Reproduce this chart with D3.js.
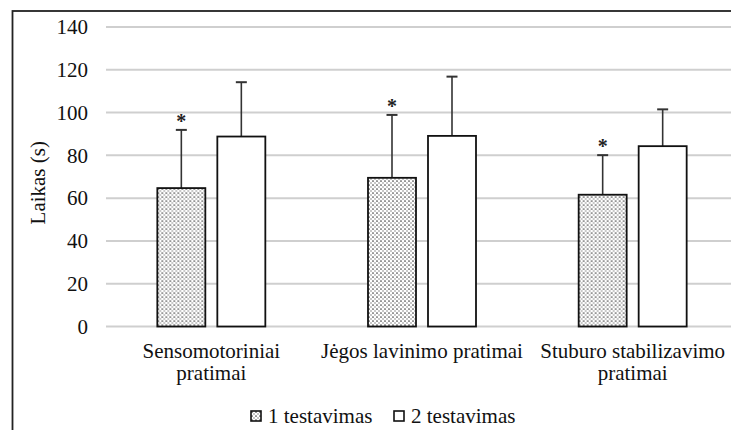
<!DOCTYPE html>
<html>
<head>
<meta charset="utf-8">
<script src="https://cdn.jsdelivr.net/npm/d3@7"></script>
<style>
  body { margin: 0; background: #fff; }
</style>
</head>
<body>
<div id="chart"></div>
<script>
// categories (line breaks as in the original)
const categories = ['Sensomotoriniai\npratimai', 'Jėgos lavinimo pratimai', 'Stuburo stabilizavimo\npratimai'];
const seriesNames = ['1 testavimas', '2 testavimas'];

// means and standard deviations
const test1 = [64.7, 69.5, 61.6];
const test1Sd = [27.2, 29.4, 18.5];
const test2 = [88.8, 89.1, 84.3];
const test2Sd = [25.4, 27.7, 17.2];

// significance marks (shown above 1st test bars)
const significant = [true, true, true];

const yTicks = [0, 20, 40, 60, 80, 100, 120, 140];

const width = 731;
const height = 430;
const margin = { top: 27, right: -7, bottom: 104, left: 106 };
const fontFamily = "'Liberation Serif', 'Times New Roman', 'DejaVu Serif', serif";

const svg = d3.select('#chart').append('svg')
    .attr('width', width)
    .attr('height', height)
    .style('font-family', fontFamily)
    .attr('font-family', fontFamily);

const defs = svg.append('defs');
const dots = defs.append('pattern')
    .attr('id', 'dots')
    .attr('patternUnits', 'userSpaceOnUse')
    .attr('width', 4)
    .attr('height', 4);
dots.append('rect').attr('width', 4).attr('height', 4).attr('fill', '#fff');
dots.append('circle').attr('cx', 1).attr('cy', 1).attr('r', 0.85).attr('fill', '#444');
dots.append('circle').attr('cx', 3).attr('cy', 3).attr('r', 0.75).attr('fill', '#777');

// outer frame (cropped at right and bottom in the source)
svg.append('rect')
    .attr('x', 12.5)
    .attr('y', 11)
    .attr('width', width + 20)
    .attr('height', height + 20)
    .attr('fill', 'none')
    .attr('stroke', '#222')
    .attr('stroke-width', 1.8);

const x0 = d3.scaleBand()
    .domain(categories)
    .range([margin.left, width - margin.right]);

const y = d3.scaleLinear()
    .domain([0, 140])
    .range([height - margin.bottom + 0.5, margin.top]);

// gridlines
svg.append('g')
    .selectAll('line')
    .data(yTicks)
    .join('line')
    .attr('x1', margin.left)
    .attr('x2', width - margin.right)
    .attr('y1', d => y(d))
    .attr('y2', d => y(d))
    .attr('stroke', '#cfcfcf')
    .attr('stroke-width', 2);

// y tick labels
svg.append('g')
    .selectAll('text')
    .data(yTicks)
    .join('text')
    .attr('x', 88)
    .attr('y', d => y(d))
    .attr('dy', '0.35em')
    .attr('text-anchor', 'end')
    .attr('font-size', 21)
    .attr('fill', '#111')
    .text(d => d);

// y axis title
svg.append('text')
    .attr('transform', `translate(45, ${(y(0) + y(140)) / 2 + 6}) rotate(-90)`)
    .attr('text-anchor', 'middle')
    .attr('font-size', 21)
    .attr('fill', '#111')
    .text('Laikas (s)');

const barWidth = 48;
const barGap = 12;

const rows = categories.map((c, i) => ({
    cat: c,
    bars: [
        { s: 0, v: test1[i], sd: test1Sd[i], sig: significant[i] },
        { s: 1, v: test2[i], sd: test2Sd[i], sig: false },
    ],
}));

const groups = svg.append('g')
    .selectAll('g')
    .data(rows)
    .join('g')
    .attr('transform', d => `translate(${x0(d.cat) + x0.bandwidth() / 2}, 0)`);

const bars = groups.selectAll('g')
    .data(d => d.bars)
    .join('g')
    .attr('transform', d => `translate(${d.s === 0 ? -barWidth - barGap / 2 : barGap / 2}, 0)`);

// error bars (upper only)
bars.append('line')
    .attr('x1', barWidth / 2)
    .attr('x2', barWidth / 2)
    .attr('y1', d => y(d.v))
    .attr('y2', d => y(d.v + d.sd))
    .attr('stroke', '#333')
    .attr('stroke-width', 1.6);

bars.append('line')
    .attr('x1', barWidth / 2 - 5.5)
    .attr('x2', barWidth / 2 + 5.5)
    .attr('y1', d => y(d.v + d.sd))
    .attr('y2', d => y(d.v + d.sd))
    .attr('stroke', '#333')
    .attr('stroke-width', 2);

bars.append('rect')
    .attr('x', 0)
    .attr('width', barWidth)
    .attr('y', d => y(d.v))
    .attr('height', d => y(0) - y(d.v))
    .attr('fill', d => (d.s === 0 ? 'url(#dots)' : '#fff'))
    .attr('stroke', '#111')
    .attr('stroke-width', 1.8);

bars.filter(d => d.sig)
    .append('text')
    .attr('x', barWidth / 2)
    .attr('y', d => y(d.v + d.sd) - 2)
    .attr('text-anchor', 'middle')
    .attr('font-size', 20)
    .attr('font-weight', 'bold')
    .attr('fill', '#222')
    .text('*');

// category labels
const catLabels = svg.append('g')
    .selectAll('text')
    .data(categories)
    .join('text')
    .attr('x', d => x0(d) + x0.bandwidth() / 2)
    .attr('y', 358)
    .attr('text-anchor', 'middle')
    .attr('font-size', 21)
    .attr('fill', '#111');

catLabels.selectAll('tspan')
    .data(d => d.split('\n'))
    .join('tspan')
    .attr('x', function () { return d3.select(this.parentNode).attr('x'); })
    .attr('dy', (d, i) => (i === 0 ? 0 : 22))
    .text(d => d);

// legend
const legendX = [251, 394];
const legend = svg.append('g')
    .selectAll('g')
    .data(seriesNames)
    .join('g')
    .attr('transform', (d, i) => `translate(${legendX[i]}, 411)`);

legend.append('rect')
    .attr('width', 10)
    .attr('height', 10)
    .attr('fill', (d, i) => (i === 0 ? 'url(#dots)' : '#fff'))
    .attr('stroke', '#111')
    .attr('stroke-width', 1.6);

legend.append('text')
    .attr('x', 17)
    .attr('y', 12)
    .attr('font-size', 21)
    .attr('fill', '#111')
    .text(d => d);
</script>
</body>
</html>
